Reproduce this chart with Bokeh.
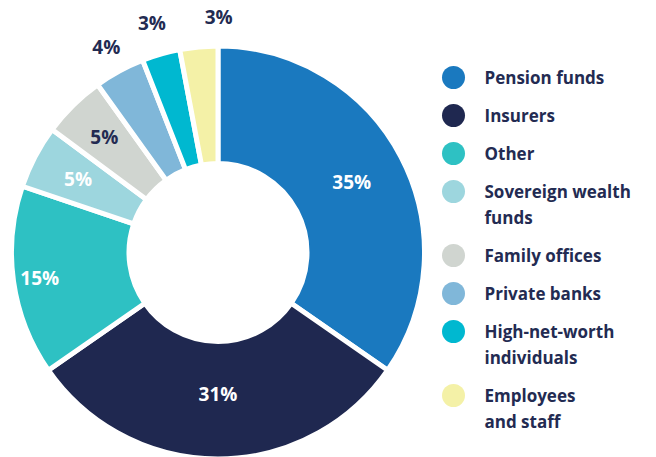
import math
from bokeh.plotting import figure
from bokeh.models import Range1d
from bokeh.core.properties import value
from bokeh.embed import file_html
from bokeh.resources import INLINE

# ---- data ----
categories = ["Pension funds", "Insurers", "Other", "Sovereign wealth\nfunds",
              "Family offices", "Private banks", "High-net-worth\nindividuals",
              "Employees\nand staff"]
shares = [35, 31, 15, 5, 5, 4, 3, 3]
colors = ["#1a79bf", "#1f2850", "#2ec1c3", "#9dd6de", "#d0d5d0", "#80b7d9",
          "#00b8d0", "#f4f1a7"]
label_colors = ["white", "white", "white", "white", "#232b52", "#232b52",
                "#232b52", "#232b52"]

# ---- layout (pixel units) ----
W, H = 656, 457
cx, cy = 217.5, 205.0
r_out, r_in = 206.5, 89.0
label_r = [151, 141, 180, 158, 162, 234, 239, 236]
label_nudge_deg = [0, 0, 0, 0, 0, 0, 0, 5.5]
dark = "#232b52"
font = value("Open Sans")

p = figure(width=W, height=H, output_backend="svg", toolbar_location=None,
           x_range=Range1d(0, W), y_range=Range1d(0, H), min_border=0)
p.axis.visible = False
p.grid.visible = False
p.outline_line_color = None
p.background_fill_color = "white"
p.border_fill_color = "white"

total = float(sum(shares))
cum = 0.0
starts, ends, lx, ly, ltxt = [], [], [], [], []
for i, s in enumerate(shares):
    a0 = math.pi / 2 - 2 * math.pi * cum / total
    a1 = math.pi / 2 - 2 * math.pi * (cum + s) / total
    starts.append(a0)
    ends.append(a1)
    mid = (a0 + a1) / 2 - math.radians(label_nudge_deg[i])
    lx.append(cx + label_r[i] * math.cos(mid))
    ly.append(cy + label_r[i] * math.sin(mid))
    ltxt.append(f"{s}%")
    cum += s

p.annular_wedge(x=cx, y=cy, inner_radius=r_in, outer_radius=r_out,
                start_angle=starts, end_angle=ends, direction="clock",
                fill_color=colors, line_color="white", line_width=5)

p.text(x=lx, y=ly, text=ltxt, text_color=label_colors, text_font=font,
       text_font_size="19px", text_font_style="bold",
       text_align="center", text_baseline="middle")

# legend
dot_x, txt_x = 453, 484
y = H - 77
step, line_step = 38, 26
dx_, dy_, dcol = [], [], []
tx, ty, tt = [], [], []
for i, cat in enumerate(categories):
    dx_.append(dot_x)
    dy_.append(y)
    dcol.append(colors[i])
    lines = cat.split("\n")
    for j, ln in enumerate(lines):
        tx.append(txt_x)
        ty.append(y - j * line_step)
        tt.append(ln)
    y -= step + line_step * (len(lines) - 1)

p.scatter(x=dx_, y=dy_, size=23, fill_color=dcol, line_color=None)
p.text(x=tx, y=ty, text=tt, text_color=dark, text_font=font,
       text_font_size="17px", text_font_style="bold",
       text_align="left", text_baseline="middle")

open("out.html", "w").write(file_html(p, INLINE))
